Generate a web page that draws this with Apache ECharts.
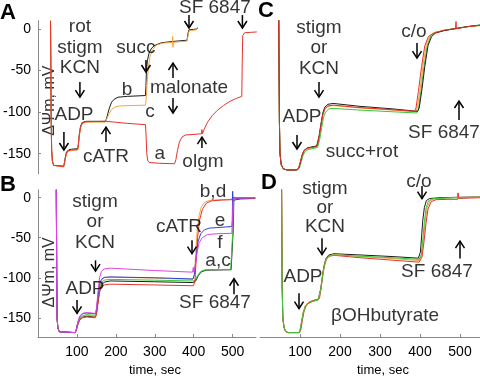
<!DOCTYPE html>
<html>
<head>
<meta charset="utf-8">
<script src="https://cdn.jsdelivr.net/npm/echarts@6/dist/echarts.min.js"></script>
<style>
  html, body { margin: 0; padding: 0; background: #fff; }
  #chart { width: 480px; height: 378px; }
</style>
</head>
<body>
<div id="chart"></div>
<script>
// --- data: [time, mV] pairs ---
// panel A (no visible time axis, own time scale)
const traceA_a = [[39,10],[40,-40],[41,-100],[42.5,-145],[45,-159],[49,-164],[55,-165.5],[80,-165.5],[82,-163],[85,-156],[89,-149],[95,-146.5],[105,-145.5],[124,-145],[126,-140],[129,-128],[133,-118],[138,-113],[150,-111.5],[212,-111],[240,-112],[280,-113.5],[336,-115],[338,-130],[340,-150],[343,-158],[348,-160.5],[380,-161.5],[427,-162],[431,-157],[436,-146],[442,-136],[450,-130],[460,-127.5],[511,-126],[512.5,-121],[514,-126],[520,-120],[530,-112],[545,-104],[560,-98],[580,-92],[600,-87],[620,-83.5],[637,-81],[638.5,-40],[640,-8],[646,-4.5],[665,-4],[684,-3.5]]
const traceA_b = [[39,10],[40,-40],[41,-100],[42.5,-145],[45,-159],[49,-164],[55,-165],[80,-165],[82,-162],[85,-155],[89,-148],[95,-145.5],[105,-144.5],[124,-144],[126,-139],[129,-127],[133,-117],[138,-112.5],[150,-111],[210,-111],[214,-108],[218,-102],[224,-94],[230,-88],[238,-84.5],[250,-82],[280,-81],[336,-80],[337.5,-68],[339,-50],[342,-38],[347,-29],[355,-23],[366,-19.5],[386,-16.5],[420,-15],[466,-13.5],[468,-13],[469.5,-4],[472,-1],[485,-0.5],[495,0],[500,1.5]]
const traceA_c = [[39,10],[40,-40],[41,-100],[42.5,-145],[45,-159],[49,-164],[55,-166],[80,-166],[82,-163],[85,-157],[89,-150],[95,-147],[105,-146],[124,-145.5],[126,-140],[129,-129],[133,-119],[138,-114],[150,-112],[210,-112],[215,-108],[222,-102],[230,-97],[240,-94],[255,-92.5],[300,-92],[336,-91.5],[338,-85],[341,-65],[345,-46],[350,-33],[358,-25],[370,-19.5],[390,-17],[420,-16],[421,-9],[422,-22],[423,-16],[466,-14.5],[469,-14],[470.5,-5],[473,-2],[496,-1]]

// panel B
const traceB_a = [[47,10],[47.5,-40],[48,-100],[49,-150],[51,-163],[55,-167.5],[60,-168.5],[95,-168.5],[98,-166],[102,-158],[107,-151],[114,-147.5],[125,-146],[147,-147],[150,-143],[154,-128],[158,-113],[163,-106],[170,-103],[185,-102],[300,-103],[398,-104],[404,-103],[410,-97],[418,-92],[430,-90],[495,-89.5],[499,-90],[500.5,-40],[502,-2],[520,-1],[558,-0.5]]
const traceB_b = [[47,10],[47.5,-40],[48,-100],[49,-150],[51,-163],[55,-167.5],[60,-168.5],[95,-168.5],[98,-166],[102,-159],[107,-153],[114,-150],[125,-149],[147,-150],[150,-146],[154,-132],[158,-118],[163,-112],[170,-109],[185,-108],[300,-109],[399,-110],[401,-110],[403,-105],[406,-80],[410,-50],[415,-28],[422,-15],[432,-7],[445,-4],[470,-3],[498,-2.5],[500,0],[503,-1.5],[558,-1]]
const traceB_c = [[47,10],[47.5,-40],[48,-100],[49,-150],[51,-163],[55,-167.5],[60,-168.5],[95,-168.5],[98,-166],[102,-158],[107,-152],[114,-149],[125,-148],[147,-149],[150,-145],[154,-130],[158,-116],[163,-109],[170,-105.5],[185,-104],[300,-105],[398,-106],[405,-104],[412,-97],[420,-92.5],[432,-90.5],[496,-90],[500,-89],[501.5,-40],[503,-3],[520,-1.5],[558,-1]]
const traceB_d = [[47,10],[47.5,-40],[48,-100],[49,-150],[51,-163],[55,-167.5],[60,-168.5],[95,-168.5],[98,-166],[102,-158],[107,-151],[114,-148],[125,-147],[147,-148],[150,-144],[154,-126],[158,-110],[163,-103],[170,-100],[185,-99],[300,-100.5],[398,-102],[400,-102],[402,-95],[405,-70],[409,-40],[414,-22],[420,-11],[430,-5],[445,-3],[498,-2],[500,0.5],[503,-1],[558,-0.5]]
const traceB_e = [[47,10],[47.5,-40],[48,-100],[49,-150],[51,-163],[55,-167.5],[60,-168.5],[95,-168.5],[98,-165],[102,-156],[107,-149],[114,-145],[125,-144],[147,-145],[150,-141],[154,-124],[158,-108],[163,-102],[170,-99.5],[185,-99],[300,-100],[398,-101.5],[400,-101.5],[402,-96],[406,-75],[411,-55],[418,-45],[428,-40],[440,-38],[470,-37],[498,-36],[499,-30],[500,8],[501,-5],[504,-1],[558,0]]
const traceB_f = [[47,10],[47.5,-40],[48,-100],[49,-150],[51,-163],[55,-167.5],[60,-168.5],[95,-168.5],[98,-165],[102,-156],[107,-148],[114,-144.5],[125,-143.5],[147,-144.5],[150,-139],[154,-118],[158,-100],[163,-92],[170,-89],[185,-88],[300,-91],[397,-93],[399,-87],[400,-93],[403,-88],[408,-70],[414,-56],[422,-50],[435,-46],[460,-45],[498,-44.5],[500,-20],[501.5,-2],[510,-0.5],[558,0]]

// panel C (succ+rot)
const traceC_black = [[47,11],[47.5,-40],[48.5,-110],[50,-150],[53,-163],[58,-168],[67,-169.5],[92,-169.5],[97,-167],[101,-160],[105,-152],[110,-146],[118,-143],[142,-140.5],[144,-139],[148,-128],[152,-115],[157,-101],[162,-94],[170,-90.5],[183,-89.5],[250,-93],[330,-96],[394,-99],[398,-95],[405,-72],[412,-45],[420,-20],[429,-9],[438,-5],[460,-2],[490,0.5],[520,3],[550,4.5]]
const traceC_orange = [[47,11],[47.5,-40],[48.5,-110],[50,-150],[53,-163],[58,-168],[67,-169.5],[92,-169.5],[97,-167],[101,-160],[105,-152],[110,-146.5],[118,-143.5],[142,-141],[144,-140],[148,-130],[152,-118],[157,-104],[162,-97],[170,-93],[183,-92],[250,-95],[330,-97.5],[390,-99.5],[394,-93],[401,-70],[408,-42],[416,-18],[425,-8],[435,-4.5],[460,-1.5],[490,0.5],[520,3],[550,4]]
const traceC_green = [[47,11],[47.5,-40],[48.5,-110],[50,-150],[53,-163],[58,-168],[68,-169.5],[94,-169.5],[99,-167],[103,-160],[107,-153],[112,-147.5],[120,-145],[144,-142.5],[146,-141],[150,-131],[154,-119],[159,-106],[164,-100],[172,-96],[185,-95.5],[250,-97.5],[330,-99.5],[392,-101],[396,-96],[403,-72],[410,-45],[418,-20],[427,-8],[437,-4],[460,-1.5],[490,1],[520,3],[550,5]]
const traceC_red = [[47,11],[47.5,-40],[48.5,-110],[50,-150],[53,-163],[58,-168],[67,-169.5],[92,-169.5],[97,-167],[101,-160],[105,-152],[110,-146.5],[118,-143.5],[142,-141.5],[144,-139],[148,-129],[152,-117],[157,-103],[162,-96],[170,-92.5],[183,-91.5],[250,-94.5],[330,-97],[386,-99],[390,-95],[396,-75],[404,-45],[412,-20],[421,-9],[430,-6],[437,-4.5],[460,-1.5],[489,0.5],[490,9],[491,0.5],[510,2],[530,3.5],[550,4.5]]

// panel D (betaOHbutyrate)
const traceD_black = [[54,12],[54.5,-40],[55.5,-110],[57,-150],[60,-162],[64,-167],[70,-168.5],[97,-168.5],[100,-166],[104,-155],[108,-144],[113,-136],[120,-131.5],[130,-129],[146,-126.5],[148,-125],[152,-113],[156,-98],[160,-85],[165,-76],[172,-71.5],[185,-70],[250,-71.5],[330,-73.5],[396,-75.5],[398,-75],[401,-68],[404,-48],[407,-28],[411,-12],[416,-3.5],[424,-1],[450,0],[495,0.5],[550,1]]
const traceD_green = [[54,12],[54.5,-40],[55.5,-110],[57,-150],[60,-162],[64,-167],[70,-168.5],[97,-168.5],[100,-166],[104,-156],[108,-145],[113,-137],[120,-132.5],[130,-130],[146,-127.5],[148,-126],[152,-115],[156,-100],[160,-87],[165,-78],[172,-73],[185,-71.5],[250,-73],[330,-75],[398,-77],[400,-77.5],[403,-71],[407,-52],[411,-30],[415,-13],[421,-4],[430,-1.5],[460,-0.5],[500,0],[550,0.5]]
const traceD_orange = [[54,12],[54.5,-40],[55.5,-110],[57,-150],[60,-162],[64,-167],[70,-168.5],[97,-168.5],[100,-166],[104,-155],[108,-143],[113,-135.5],[120,-131],[130,-129],[146,-127],[148,-125.5],[152,-114],[156,-99],[160,-86],[165,-77],[172,-72.5],[185,-71],[250,-73.5],[330,-76],[398,-78.5],[400,-79],[404,-72],[409,-50],[413,-30],[418,-12],[425,-4],[435,-1.5],[470,-0.5],[495,0.5],[496,5],[497,0],[550,1]]
const traceD_red = [[54,12],[54.5,-40],[55.5,-110],[57,-150],[60,-162],[64,-167],[70,-168.5],[99,-168.5],[102,-165],[106,-153],[110,-142],[115,-135],[122,-131],[132,-129],[146,-127.5],[149,-125],[153,-112],[157,-97],[161,-85],[166,-77],[173,-73],[186,-72],[250,-75],[330,-78],[398,-80.5],[400,-80.5],[405,-74],[410,-55],[415,-32],[420,-14],[428,-5],[440,-2.5],[470,-2],[494,-2],[495,6],[496,-1],[520,-0.5],[550,0]]

// annotations: [time, mV, text]
const notesA = [[131,2.4,'rot'],[131,-22.9,'stigm'],[131,-46.9,'KCN'],[112.5,-103.4,'ADP'],[212.5,-153.9,'cATR'],[278,-73.4,'b'],[350,-99.8,'c'],[381,-150.3,'a'],[306,-22.9,'succ'],[472,-71,'malonate'],[515.6,-160,'olgm'],[553,25,'SF 6847']]
const notesB = [[146.4,-4.8,'stigm'],[146.4,-30.1,'or'],[146.4,-56.6,'KCN'],[120.7,-113.3,'ADP'],[362,-36.1,'cATR'],[449.5,7.2,'b,d'],[467.5,-28.9,'e'],[467.5,-56.6,'f'],[462.4,-78.3,'a,c'],[454.7,-131.3,'SF 6847']]
const notesC = [[147.5,1.2,'stigm'],[147.5,-22.9,'or'],[147.5,-48.1,'KCN'],[105,-105.8,'ADP'],[255,-147.9,'succ+rot'],[385,-3.6,'c/o'],[460,-125,'SF 6847']]
const notesD = [[162.5,10.8,'stigm'],[162.5,-12,'or'],[162.5,-36.1,'KCN'],[107.5,-98.8,'ADP'],[312.5,-147,'βOHbutyrate'],[442.5,-92.8,'SF 6847'],[397.5,20.5,'c/o']]

// arrows: [time, tail mV, tip mV]
const arrowsA = [[131,-63.7,-81.8],[81,-123.9,-145.5],[212.5,-135.9,-117.9],[337.5,-37.3,-51.7],[422,-58.9,-40.9],[422,-83,-101],[512.5,-143,-130],[472,16.8,1.2],[639,16.8,1.2]]
const arrowsB = [[147.7,-78.3,-91.6],[100.2,-127.7,-144.6],[395.6,-53,-69.9],[503.5,-120.5,-101.2]]
const arrowsC = [[147.5,-63.7,-81.8],[92.5,-127.5,-144.3],[392.5,-16.8,-34.9],[497.5,-109.4,-86.6]]
const arrowsD = [[155,-50.6,-71.1],[97.5,-119.3,-138.6],[500,-75.9,-54.2],[405,14.5,-1.2]]

const yTicks = [-150, -100, -50, 0]
const xTicks = [100, 200, 300, 400, 500]

const FONT = '"Liberation Sans", Arial, sans-serif'
const COLORS = {
  red: '#e8322b',
  orange: '#f4a33c',
  black: '#1c1c1c',
  green: '#38c93a',
  blue: '#3140d8',
  magenta: '#e042e6',
}

const chart = echarts.init(document.getElementById('chart'))

function trace(idx, data, color) {
  return {
    type: 'line',
    xAxisIndex: idx,
    yAxisIndex: idx,
    data,
    showSymbol: false,
    symbol: 'none',
    lineStyle: { color, width: 1 },
    silent: true,
  }
}

function notes(idx, data) {
  return {
    type: 'scatter',
    xAxisIndex: idx,
    yAxisIndex: idx,
    data: data.map(d => ({ value: [d[0], d[1]], name: d[2] })),
    symbolSize: 1,
    itemStyle: { color: 'rgba(0,0,0,0)' },
    clip: false,
    silent: true,
    z: 6,
    label: {
      show: true,
      position: 'inside',
      formatter: '{b}',
      color: '#000',
      textBorderWidth: 0,
      fontSize: 19,
      fontFamily: FONT,
    },
  }
}

function arrows(idx, data) {
  return {
    type: 'custom',
    xAxisIndex: idx,
    yAxisIndex: idx,
    data,
    encode: { x: 0, y: [1, 2] },
    clip: false,
    silent: true,
    z: 5,
    renderItem(params, api) {
      const a = api.coord([api.value(0), api.value(1)])
      const b = api.coord([api.value(0), api.value(2)])
      const d = b[1] > a[1] ? 1 : -1
      const st = { stroke: '#000', lineWidth: 1.5, fill: null }
      return {
        type: 'group',
        children: [
          { type: 'line', shape: { x1: a[0], y1: a[1], x2: b[0], y2: b[1] }, style: st },
          { type: 'polyline', shape: { points: [[b[0] - 4.5, b[1] - d * 7], [b[0], b[1]], [b[0] + 4.5, b[1] - d * 7]] }, style: st },
        ],
      }
    },
  }
}

function yAxisShown(idx, pad) {
  return {
    type: 'value',
    gridIndex: idx,
    min: -174,
    max: 10,
    axisLine: { show: true, onZero: false, lineStyle: { color: '#8a8a8a', width: 1 } },
    axisTick: { show: true, inside: true, length: 3, customValues: yTicks, lineStyle: { color: '#8a8a8a' } },
    axisLabel: { customValues: yTicks, color: '#000', fontSize: 14, fontFamily: FONT, margin: 7 },
    splitLine: { show: false },
    name: 'ΔΨm, mV',
    nameLocation: 'middle',
    nameRotate: 90,
    nameGap: -20,
    nameTextStyle: { color: '#333', fontSize: 16, fontFamily: FONT, padding: pad },
  }
}

function yAxisHidden(idx) {
  return { type: 'value', gridIndex: idx, min: -174, max: 10, show: false }
}

function xAxisShown(idx, max, pad) {
  return {
    type: 'value',
    gridIndex: idx,
    min: 0,
    max,
    axisLine: { show: true, onZero: false, lineStyle: { color: '#8a8a8a', width: 1 } },
    axisTick: { show: true, inside: true, length: 3, customValues: xTicks, lineStyle: { color: '#8a8a8a' } },
    axisLabel: { customValues: xTicks, color: '#000', fontSize: 14, fontFamily: FONT, margin: 8 },
    splitLine: { show: false },
    name: 'time, sec',
    nameLocation: 'middle',
    nameGap: 27,
    nameTextStyle: { color: '#000', fontSize: 13, fontFamily: FONT, padding: pad },
  }
}

function xAxisHidden(idx, max) {
  return { type: 'value', gridIndex: idx, min: 0, max, show: false }
}

const letter = (text, left, top) => ({
  text, left, top, padding: 0,
  textStyle: { fontSize: 22, fontWeight: 'bold', color: '#000', fontFamily: FONT },
})

chart.setOption({
  animation: false,
  backgroundColor: '#fff',
  title: [letter('A', 0, 2), letter('B', 0, 174), letter('C', 258, 0), letter('D', 261, 172)],
  grid: [
    { left: 38, top: 20.7, width: 222, height: 153 },
    { left: 38, top: 189.7, width: 218, height: 152.7 },
    { left: 260, top: 20.7, width: 220, height: 153 },
    { left: 260, top: 189.7, width: 220, height: 152.7 },
  ],
  xAxis: [xAxisHidden(0, 694), xAxisShown(1, 560, [0, 0, 0, 16]), xAxisHidden(2, 550), xAxisShown(3, 550, [0, 0, 0, 26])],
  yAxis: [yAxisShown(0, [0, 7, 0, 0]), yAxisShown(1, [0, 18, 0, 0]), yAxisHidden(2), yAxisHidden(3)],
  series: [
    trace(0, traceA_b, COLORS.black),
    trace(0, traceA_c, COLORS.orange),
    trace(0, traceA_a, COLORS.red),
    trace(1, traceB_c, COLORS.black),
    trace(1, traceB_a, COLORS.green),
    trace(1, traceB_d, COLORS.orange),
    trace(1, traceB_b, COLORS.red),
    trace(1, traceB_e, COLORS.blue),
    trace(1, traceB_f, COLORS.magenta),
    trace(2, traceC_green, COLORS.green),
    trace(2, traceC_orange, COLORS.orange),
    trace(2, traceC_black, COLORS.black),
    trace(2, traceC_red, COLORS.red),
    trace(3, traceD_black, COLORS.black),
    trace(3, traceD_orange, COLORS.orange),
    trace(3, traceD_red, COLORS.red),
    trace(3, traceD_green, COLORS.green),
    notes(0, notesA), notes(1, notesB), notes(2, notesC), notes(3, notesD),
    arrows(0, arrowsA), arrows(1, arrowsB), arrows(2, arrowsC), arrows(3, arrowsD),
  ],
})
</script>
</body>
</html>
